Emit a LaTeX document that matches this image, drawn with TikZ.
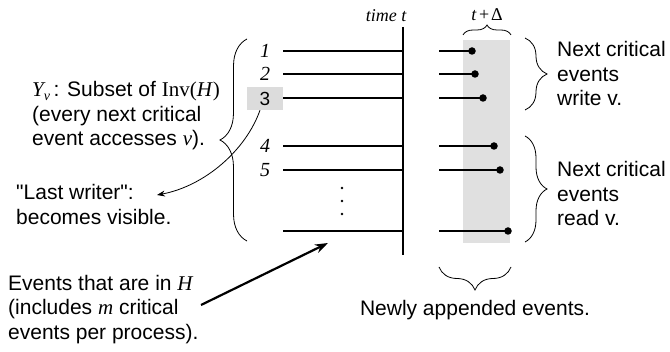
\documentclass[tikz,border=0pt]{standalone}
\usepackage{fontspec}
\setmainfont{Liberation Sans}
\newfontfamily\tms{Liberation Serif}
\usetikzlibrary{decorations.pathreplacing,arrows.meta}
\definecolor{bandgray}{HTML}{E0E0E0}
\definecolor{numbox}{HTML}{DCDCDC}
\tikzset{
  lbl/.style={font=\fontsize{21}{24.5}\selectfont, inner sep=0pt, align=left, anchor=north west},
  num/.style={font=\tms\itshape\fontsize{20}{22}\selectfont, inner sep=0pt, anchor=base},
  hdr/.style={font=\tms\fontsize{18}{20}\selectfont, inner sep=0pt, anchor=base},
  evline/.style={line width=2.5pt},
  newline/.style={line width=2.2pt},
  tipdot/.style={circle, fill=black, inner sep=0pt, minimum size=7.5pt},
  vdot/.style={circle, fill=black, inner sep=0pt, minimum size=2.6pt},
  curly/.style={decorate, line width=0.8pt, decoration={brace, amplitude=#1}},
}
\newcommand{\tv}[1]{{\tms\itshape #1}}
\begin{document}
\begin{tikzpicture}[x=1pt, y=-1pt]
\useasboundingbox (0,0) rectangle (670,352);

% shaded band of the newly appended events
\fill[bandgray] (463,40) rectangle (510,243);

% events in H (left of the axis) and appended events (right of it)
\foreach \i/\yy/\e in {1/51/472, 2/74/475, 3/98/483, 4/146/494, 5/170/500, 6/231/508}{
  \coordinate (h\i) at (283,\yy);
  \coordinate (t\i) at (403,\yy);
  \coordinate (a\i) at (439,\yy);
  \node[tipdot] (d\i) at (\e,\yy) {};
  \draw[evline] (h\i) -- (t\i);
  \draw[newline] (a\i) -- (d\i.center);
}

% time axis
\coordinate (axtop) at (403,27);
\coordinate (axbot) at (403,255);
\draw[line width=1.4pt] (axtop) -- (axbot);
\node[hdr] (timelbl) at (386,22) {\itshape time t};
\node[hdr] (tdelta) at (487,21) {\itshape t\hspace{0.15em}\upshape+\hspace{0.1em}Δ};

% process numbers
\node[num] (n1) at (265,57.5) {1};
\node[num] (n2) at (265,80.5) {2};
\node[fill=numbox, minimum width=36pt, minimum height=23pt, inner sep=0pt,
      font=\fontsize{19}{22}\selectfont] (n3) at (265,98.5) {3};
\node[num] (n4) at (265,152.5) {4};
\node[num] (n5) at (265,176.5) {5};
\node[vdot] (v1) at (342,188) {};
\node[vdot] (v2) at (342,201) {};
\node[vdot] (v3) at (342,214) {};

% braces
\coordinate (lbA) at (247,241);
\coordinate (lbB) at (247,39);
\draw[curly=27pt] (lbA) -- (lbB);
\coordinate (wbA) at (525,38);
\coordinate (wbB) at (525,110);
\draw[curly=22pt] (wbA) -- (wbB);
\coordinate (rbA) at (525,136);
\coordinate (rbB) at (525,242);
\draw[curly=22pt] (rbA) -- (rbB);
\coordinate (dbA) at (463,35);
\coordinate (dbB) at (511,35);
\draw[curly=10pt] (dbA) -- (dbB);
\coordinate (nbA) at (511,267);
\coordinate (nbB) at (439,267);
\draw[curly=23pt] (nbA) -- (nbB);

% labels
\node[lbl] (yv) at (32,81.5) {\tv{Y}\raisebox{-4pt}{\tv{\fontsize{14}{14}\selectfont v}}\,: Subset of {\tms Inv(\textit{H})}\\
(every next critical\\ event accesses \tv{v}).};
\node[lbl] (lw) at (16,184.5) {\textquotedbl Last writer\textquotedbl:\\ becomes visible.};
\node[lbl] (evh) at (8,275) {Events that are in \tv{H}\\ (includes \tv{m} critical\\ events per process).};
\node[lbl] (wr) at (557,41.5) {Next critical\\ events\\ write v.};
\node[lbl] (rd) at (557,161.5) {Next critical\\ events\\ read v.};
\node[font=\fontsize{21}{24}\selectfont, inner sep=0pt, anchor=base] (na) at (475,316) {Newly appended events.};

% arrows
\coordinate (lwtip) at (157,195);
\draw[line width=0.8pt, -{Stealth[length=8pt,width=6pt]}]
  ([xshift=-5pt]n3.south) .. controls (246,150) and (205,186) .. (lwtip);
\coordinate (hstart) at (201,305);
\coordinate (htip) at (328,243);
\draw[line width=2.2pt, -{Stealth[length=13pt,width=9pt]}] (hstart) -- (htip);
\end{tikzpicture}
\end{document}
